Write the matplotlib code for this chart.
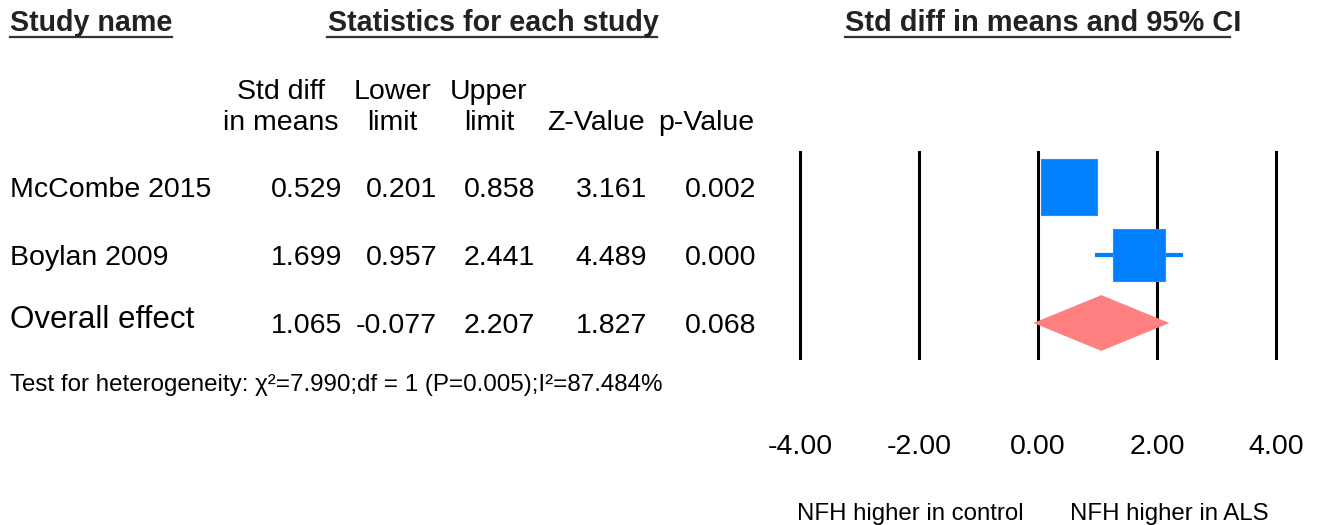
import matplotlib.pyplot as plt
from matplotlib import transforms

# Dades de la meta-anàlisi
studies = ['McCombe 2015', 'Boylan 2009']
effect = [0.529, 1.699]
lower = [0.201, 0.957]
upper = [0.858, 2.441]
z_value = [3.161, 4.489]
p_value = [0.002, 0.000]

overall_label = 'Overall effect'
overall = [1.065, -0.077, 2.207, 1.827, 0.068]  # efecte, inferior, superior, Z, p

header_top = ['Std diff', 'Lower', 'Upper', '', '']
header_bottom = ['in means', 'limit', 'limit', 'Z-Value', 'p-Value']
xticks = [-4, -2, 0, 2, 4]
heterogeneity = 'Test for heterogeneity: \u03c7\u00b2=7.990;df = 1 (P=0.005);I\u00b2=87.484%'
side_labels = ['NFH higher in control', 'NFH higher in ALS']

plt.rcParams['font.family'] = ['Liberation Sans', 'DejaVu Sans']

W, H = 1321, 525
fig = plt.figure(figsize=(W / 100, H / 100), dpi=100)

# Eix de fons en píxels per col·locar el text
bg = fig.add_axes([0, 0, 1, 1])
bg.set_xlim(0, W)
bg.set_ylim(H, 0)
bg.axis('off')

# Eix del forest plot
ax = fig.add_axes([800 / W, (H - 358) / H, 476 / W, 206 / H])
ax.set_xlim(-4, 4)
ax.set_ylim(2.515, -0.515)
for s in ax.spines.values():
    s.set_visible(False)
ax.set_yticks([])
ax.set_xticks(xticks)
ax.set_xticklabels(['%.2f' % t for t in xticks], fontsize=20.5)
ax.tick_params(axis='x', length=0, pad=54.5)
for t in xticks:
    ax.axvline(t, color='black', lw=2.2, zorder=1, clip_on=False)

blue = '#0080ff'
box_sizes = [40.5, 37.5]  # mida del quadrat (punts)
for i in range(len(studies)):
    ax.plot([lower[i], upper[i]], [i, i], color=blue, lw=3, zorder=2,
            solid_capstyle='butt')
    ax.plot(effect[i], i, marker='s', ms=box_sizes[i], color=blue,
            markeredgecolor='#2a8cff', markeredgewidth=0.8, zorder=3)

# Diamant de l'efecte global
yo = len(studies)
dh = 0.41
ax.fill([overall[1], overall[0], overall[2], overall[0]],
        [yo, yo - dh, yo, yo + dh], color='#ff8080', lw=0, zorder=3)

# Etiquetes sota l'eix
lab_tr = transforms.blended_transform_factory(ax.transData, ax.transAxes)
ax.text(-2.14, -0.743, side_labels[0], transform=lab_tr, ha='center',
        va='center_baseline', fontsize=17.3)
ax.text(2.2, -0.743, side_labels[1], transform=lab_tr, ha='center',
        va='center_baseline', fontsize=17.3)

# Capçaleres subratllades
head_col = '#222222'
bg.text(10, 20, 'Study name', fontsize=20.6, fontweight='bold', color=head_col,
        va='center_baseline', ha='left')
bg.text(493, 20, 'Statistics for each study', fontsize=20.6, fontweight='bold',
        color=head_col, va='center_baseline', ha='center')
bg.text(845, 20, 'Std diff in means and 95% CI', fontsize=20.9, fontweight='bold',
        color=head_col, va='center_baseline', ha='left')
for x0, x1 in [(10, 172), (327, 657), (845, 1230)]:
    bg.plot([x0, x1], [37, 37], color='#333333', lw=1.6)

col_center = [281, 392, 489, 596, 706]
col_right = [342, 437, 535, 647, 756]
for c, top, bot in zip(col_center, header_top, header_bottom):
    bg.text(c, 89, top, ha='center', va='center_baseline', fontsize=20.5)
    bg.text(c, 120, bot, ha='center', va='center_baseline', fontsize=20.5)

# Files de la taula, alineades amb les files del forest plot
row_tr = transforms.blended_transform_factory(bg.transData, ax.transData)
for i, name in enumerate(studies):
    bg.text(10, i, name, transform=row_tr, ha='left', va='center_baseline',
            fontsize=20.5)
    vals = [effect[i], lower[i], upper[i], z_value[i], p_value[i]]
    for xr, v in zip(col_right, vals):
        bg.text(xr, i, '%.3f' % v, transform=row_tr, ha='right',
                va='center_baseline', fontsize=20.5)

bg.text(10, yo - 0.09, overall_label, transform=row_tr, ha='left',
        va='center_baseline', fontsize=22.5)
for xr, v in zip(col_right, overall):
    bg.text(xr, yo, '%.3f' % v, transform=row_tr, ha='right',
            va='center_baseline', fontsize=20.5)

# Heterogeneïtat
bg.text(10, 383, heterogeneity, ha='left', va='center_baseline', fontsize=17.4)

fig.savefig('out.png', dpi=100, facecolor='white')
